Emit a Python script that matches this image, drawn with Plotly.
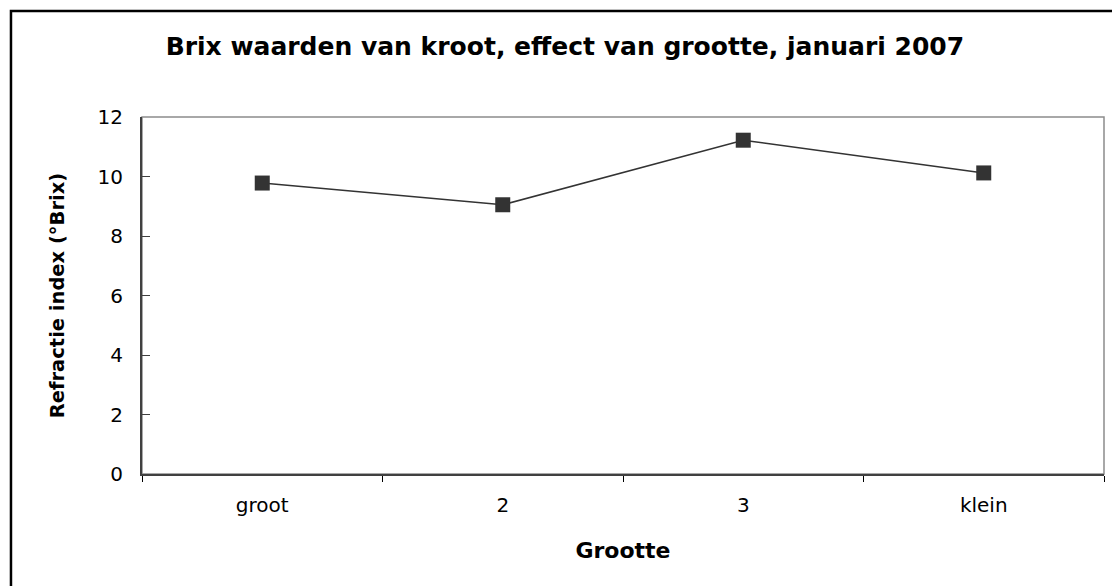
import plotly.graph_objects as go

# Brix per size class, January 2007
categories = ["groot", "2", "3", "klein"]
brix = [9.78, 9.05, 11.22, 10.12]
y_ticks = [0, 2, 4, 6, 8, 10, 12]

FONT = "DejaVu Sans, Arial, sans-serif"

fig = go.Figure()
fig.add_trace(go.Scatter(
    x=categories,
    y=brix,
    mode="lines+markers",
    line=dict(color="#333333", width=1.5),
    marker=dict(symbol="square", size=15, color="#333333"),
    showlegend=False,
    cliponaxis=False,
))

# plot-area frame (grey), axes drawn on top of it
fig.add_shape(type="rect", xref="paper", yref="paper", x0=0, y0=0, x1=1, y1=1,
              line=dict(color="#8c8c8c", width=1.5), layer="below")
# outer chart border
fig.add_shape(type="path", xref="paper", yref="paper",
              path="M -0.1362,-0.4 L -0.1362,1.2969 L 1.05,1.2969",
              line=dict(color="black", width=2.5))

fig.update_layout(
    width=1112, height=586,
    margin=dict(l=142, r=8, t=117, b=112),
    paper_bgcolor="white",
    plot_bgcolor="white",
    font=dict(family=FONT, color="black"),
    title=dict(
        text="<b>Brix waarden van kroot, effect van grootte, januari 2007</b>",
        x=0.508, xanchor="center", y=0.921, yanchor="middle",
        font=dict(family=FONT, size=25, color="black"),
    ),
    xaxis=dict(
        type="category",
        range=[-0.5, 3.5],
        tickson="boundaries",
        ticks="outside", ticklen=6, tickcolor="black", tickwidth=1,
        ticklabelstandoff=12,
        showline=True, linecolor="#404040", linewidth=2,
        showgrid=False, zeroline=False,
        tickfont=dict(size=20, family=FONT, color="black"),
        title=dict(text="<b>Grootte</b>", font=dict(size=22, family=FONT), standoff=27),
    ),
    yaxis=dict(
        range=[0, 12],
        tickvals=y_ticks,
        ticks="inside", ticklen=8, tickcolor="#404040", tickwidth=1,
        ticklabelstandoff=13,
        showline=True, linecolor="#404040", linewidth=2,
        showgrid=False, zeroline=False,
        tickfont=dict(size=20, family=FONT, color="black"),
        title=dict(text="<b>Refractie index (°Brix)</b>", font=dict(size=19.5, family=FONT), standoff=28),
    ),
)

fig.write_html("out.html")
